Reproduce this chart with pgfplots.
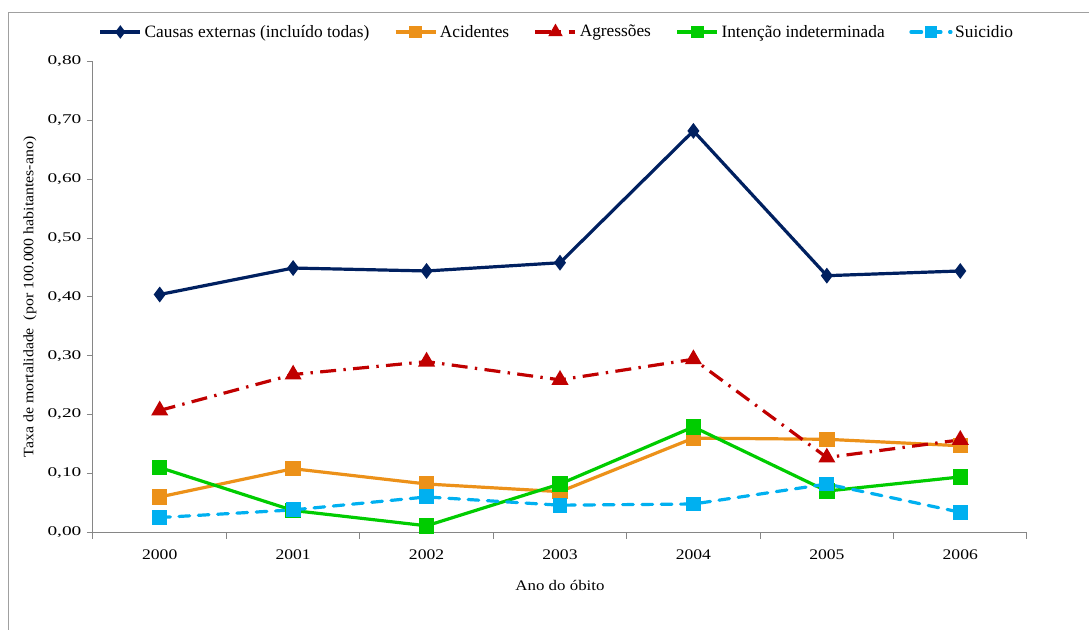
\documentclass[border=0pt]{standalone}
\usepackage{pgfplots}
\usepackage{pgfplotstable}
\pgfplotsset{compat=1.18}
\usepackage{fontspec}
\setmainfont{Liberation Serif}
\newfontfamily\legfont{Liberation Serif}
\newfontfamily\ytfont[FakeStretch=1.45]{Liberation Serif}
\newfontfamily\xtfont[FakeStretch=1.2]{Liberation Serif}
\newfontfamily\ylfont[FakeStretch=1.1]{Liberation Serif}
\newfontfamily\xlfont[FakeStretch=1.15]{Liberation Serif}
\definecolor{cnavy}{RGB}{0,32,96}
\definecolor{corange}{RGB}{236,145,25}
\definecolor{cred}{RGB}{192,0,0}
\definecolor{cgreen}{RGB}{0,204,0}
\definecolor{cblue}{RGB}{0,176,240}
\definecolor{axisgray}{RGB}{134,134,134}
\definecolor{framegray}{RGB}{160,160,160}

\pgfplotstableread{
x causas acid agress indet suic
0 0.404 0.060 0.207 0.110 0.025
1 0.449 0.108 0.268 0.037 0.038
2 0.444 0.082 0.290 0.011 0.060
3 0.458 0.069 0.259 0.082 0.046
4 0.682 0.160 0.294 0.179 0.048
5 0.436 0.158 0.127 0.070 0.082
6 0.444 0.147 0.157 0.094 0.034
}\datatable

\begin{document}
\begin{tikzpicture}
\path[use as bounding box] (-69.75pt,-73.3pt) rectangle (747pt,399.2pt);
\draw[framegray, line width=0.75pt] (-63pt,-80pt) -- (-63pt,389.5pt) -- (760pt,389.5pt);
\begin{axis}[
  at={(0pt,0pt)}, anchor=south west,
  scale only axis, width=700.5pt, height=353.1pt,
  xmin=-0.5, xmax=6.5, ymin=0, ymax=0.8,
  axis x line=bottom, axis y line=left,
  axis line style={-, draw=axisgray, line width=0.75pt},
  xtick={0,1,2,3,4,5,6},
  xticklabels={2000,2001,2002,2003,2004,2005,2006},
  minor xtick={-0.5,0.5,1.5,2.5,3.5,4.5,5.5,6.5},
  ytick={0,0.1,0.2,0.3,0.4,0.5,0.6,0.7,0.8},
  tick align=outside,
  major x tick style={draw=none},
  major tick length=4.5pt, minor tick length=5pt,
  every tick/.style={axisgray, line width=0.75pt},
  /pgf/number format/assume math mode=true,
  yticklabel style={font=\ytfont\fontsize{10pt}{12pt}\selectfont, anchor=east, inner sep=0pt, xshift=-4pt,
    /pgf/number format/.cd, fixed, fixed zerofill, precision=2, use comma},
  xticklabel style={font=\xtfont\fontsize{11pt}{13pt}\selectfont, anchor=center, inner sep=0pt, yshift=-12.5pt},
  xlabel={Ano do óbito},
  xlabel style={font=\xlfont\fontsize{11pt}{13pt}\selectfont, at={(axis description cs:0.5,-0.112)}, anchor=center},
  ylabel={Taxa de mortalidade\ \ (por 100.000 habitantes-ano)},
  ylabel style={font=\ylfont\fontsize{10.8pt}{13pt}\selectfont, at={(axis description cs:-0.0675,0.5)}, anchor=center},
  legend style={at={(0.497,1.0626)}, anchor=center, draw=none, fill=none, inner sep=0pt,
    font=\legfont\fontsize{13pt}{15pt}\selectfont,
    /tikz/every even column/.append style={column sep=16.5pt}},
  legend columns=5,
  legend cell align=left,
  legend image code/.code={\draw[mark repeat=2,mark phase=2,every mark/.append style={scale=0.78}] plot coordinates {(0pt,0pt)(15pt,0pt)(30pt,0pt)};},
  every axis plot/.append style={line width=2.4pt},
]
\addplot[cnavy, mark=diamond*, mark size=4pt, mark options={solid}] table[x=x,y=causas] {\datatable};
\addlegendentry{Causas externas (incluído todas)}
\addplot[corange, mark=square*, mark size=4.6pt, mark options={solid}] table[x=x,y=acid] {\datatable};
\addlegendentry{Acidentes}
\addplot[cred, dash pattern=on 12pt off 5.5pt on 1.8pt off 5.5pt, mark=triangle*, mark size=5pt, mark options={solid}] table[x=x,y=agress] {\datatable};
\addlegendentry{Agressões}
\addplot[cgreen, mark=square*, mark size=4.6pt, mark options={solid}] table[x=x,y=indet] {\datatable};
\addlegendentry{Intenção indeterminada}
\addplot[cblue, line cap=round, dash pattern=on 8pt off 6.5pt, mark=square*, mark size=4.4pt, mark options={solid}] table[x=x,y=suic] {\datatable};
\addlegendentry{Suicidio}
\end{axis}
\end{tikzpicture}
\end{document}
